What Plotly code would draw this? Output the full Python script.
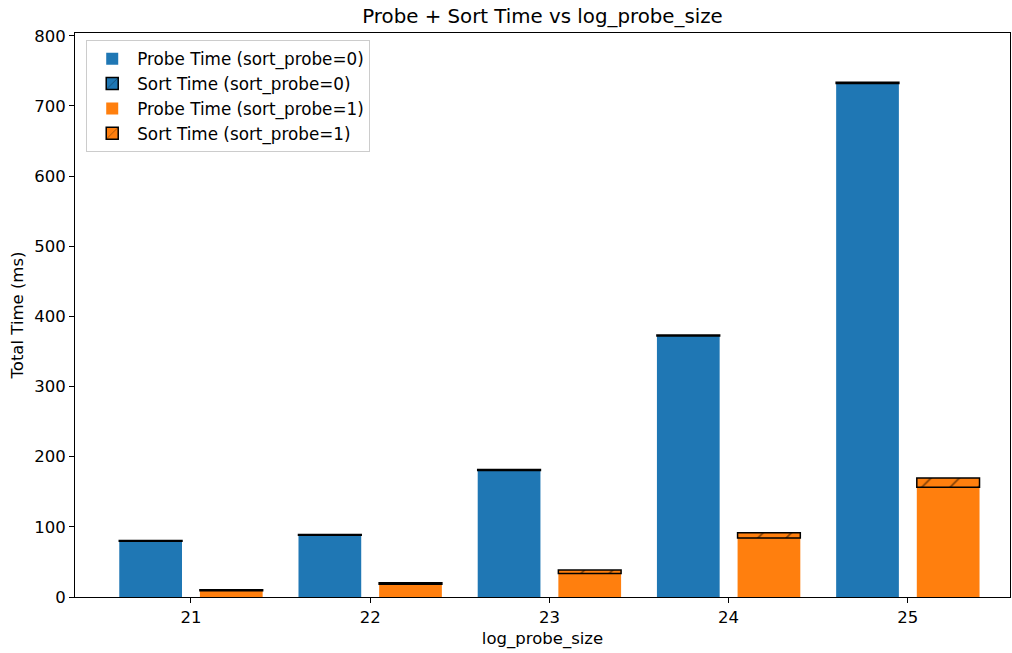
import plotly.graph_objects as go

sizes = [21, 22, 23, 24, 25]
probe0 = [79.5, 88.0, 180.5, 372.0, 732.0]
sort0 = [1.2, 1.2, 1.2, 1.5, 1.8]
probe1 = [9.0, 18.0, 33.5, 84.0, 156.5]
sort1 = [1.5, 2.2, 5.0, 7.5, 13.0]

blue = "#1f77b4"
orange = "#ff7f0e"
W = 0.35
OFF = 0.225

fig = go.Figure()

def add(name, y, base, color, offset, hatched):
    kw = dict(
        x=sizes, y=y, base=base, name=name, width=W, offset=offset - W / 2,
        marker=dict(color=color, line=dict(width=1.5 if hatched else 0, color="black")),
    )
    if hatched:
        kw["marker"]["pattern"] = dict(shape="/", fgcolor="black", bgcolor=color, size=20, solidity=0.08)
    fig.add_trace(go.Bar(**kw))

add("Probe Time (sort_probe=0)", probe0, [0] * 5, blue, -OFF, False)
add("Sort Time (sort_probe=0)", sort0, probe0, blue, -OFF, True)
add("Probe Time (sort_probe=1)", probe1, [0] * 5, orange, OFF, False)
add("Sort Time (sort_probe=1)", sort1, probe1, orange, OFF, True)

font = "DejaVu Sans"
fig.update_layout(
    barmode="overlay",
    width=1012, height=653,
    margin=dict(l=75, r=2, t=33, b=56),
    plot_bgcolor="white", paper_bgcolor="white",
    font=dict(family=font, size=16.5, color="black"),
    title=dict(text="Probe + Sort Time vs log_probe_size", x=0.5, xref="paper", xanchor="center",
               y=1 - 16 / 653, yanchor="middle", font=dict(size=19.8)),
    legend=dict(x=0.012, y=0.987, xanchor="left", yanchor="top", bgcolor="rgba(255,255,255,0.8)",
                bordercolor="#cccccc", borderwidth=1, font=dict(size=16.8), itemwidth=40),
    showlegend=True,
)
fig.update_xaxes(
    range=[20.353, 25.57], tickvals=sizes, ticktext=[str(s) for s in sizes],
    showgrid=False, zeroline=False, showline=True, linecolor="black", linewidth=1, mirror=True,
    ticks="outside", ticklen=5, tickcolor="black",
    title=dict(text="log_probe_size", font=dict(size=16.5), standoff=6),
)
fig.update_yaxes(
    range=[0, 804], tickvals=[0, 100, 200, 300, 400, 500, 600, 700, 800],
    showgrid=False, zeroline=False, showline=True, linecolor="black", linewidth=1, mirror=True,
    ticks="outside", ticklen=5, tickcolor="black",
    title=dict(text="Total Time (ms)", font=dict(size=16.5), standoff=6),
)

fig.write_html("out.html")
